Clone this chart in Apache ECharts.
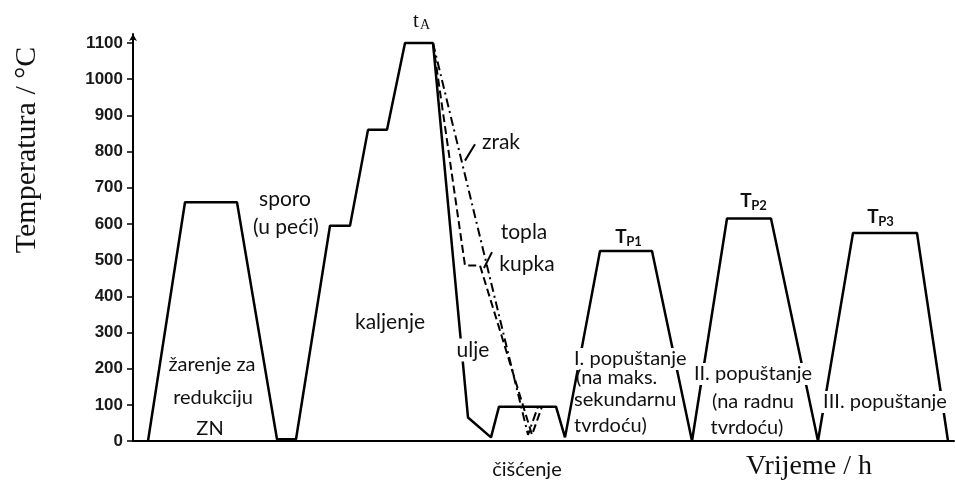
<!DOCTYPE html>
<html><head><meta charset="utf-8">
<script src="https://cdn.jsdelivr.net/npm/echarts@6/dist/echarts.min.js"></script>
<style>html,body{margin:0;padding:0;background:#fff}#c{width:955px;height:491px}</style>
</head><body><div id="c"></div>
<script>
// Temperature tick labels (°C)
const tempTicks = [0, 100, 200, 300, 400, 500, 600, 700, 800, 900, 1000, 1100];
// Main process curve (time in arbitrary units, temperature °C)
const mainTime = [15, 52, 104, 144, 163, 197, 217, 235, 254, 272, 300, 335, 358, 366, 423, 432, 467, 519, 559, 594, 638, 685, 720, 784, 815];
const mainTemp = [0, 660, 660, 5, 5, 595, 595, 860, 860, 1100, 1100, 65, 10, 95, 95, 10, 525, 525, 0, 615, 615, 0, 575, 575, 0];
// Air cooling (zrak)
const airTime = [300, 395, 405];
const airTemp = [1100, 17, 95];
// Hot bath (topla kupka)
const bathTime = [300, 332, 347, 399, 409];
const bathTemp = [1100, 485, 485, 17, 95];
// Leader ticks for labels
const airLeaderTime = [342, 332];
const airLeaderTemp = [820, 775];
const bathLeaderTime = [359, 351];
const bathLeaderTemp = [522, 478];

const zip = (a, b) => a.map((v, i) => [v, b[i]]);

const SANS = 'Lato, "Open Sans", sans-serif';
const SERIF = '"Liberation Serif", "DejaVu Serif", serif';
const INK = '#111';

function label(text, x, y, o) {
  o = o || {};
  return {
    type: 'text', x: x, y: y, z: 100, rotation: o.rotation || 0,
    style: {
      text: text, x: 0, y: 0,
      font: o.font || ('20px ' + SANS),
      fill: o.fill || INK,
      align: o.align || 'center',
      verticalAlign: 'middle',
      backgroundColor: o.bg ? '#fff' : null,
      padding: o.bg ? [1, 2] : 0
    }
  };
}

const chart = echarts.init(document.getElementById('c'), null, { renderer: 'canvas' });
chart.setOption({
  animation: false,
  backgroundColor: '#fff',
  grid: { left: 133, right: 1, top: 34, bottom: 50 },
  xAxis: {
    type: 'value', min: 0, max: 821,
    axisLine: { show: true, lineStyle: { color: '#000', width: 2 } },
    axisTick: { show: false }, axisLabel: { show: false }, splitLine: { show: false }
  },
  yAxis: {
    type: 'value', min: 0, max: 1125, interval: 100,
    axisLine: { show: true, symbol: ['none', 'arrow'], symbolSize: [6, 7], lineStyle: { color: '#000', width: 2 } },
    axisTick: { show: true, length: 6, customValues: tempTicks, lineStyle: { color: '#000', width: 1.5 } },
    axisLabel: {
      show: true, customValues: tempTicks, margin: 10, color: '#1a1a1a', fontSize: 17, fontWeight: 'bold',
      fontFamily: '"Liberation Sans", Arial, sans-serif',
      formatter: function (v) { return String(v); }
    },
    splitLine: { show: false }
  },
  series: [
    { type: 'line', data: zip(mainTime, mainTemp), symbol: 'none', lineStyle: { color: '#000', width: 2.5 }, z: 3 },
    { type: 'line', data: zip(airTime, airTemp), symbol: 'none', lineStyle: { color: '#000', width: 2, type: [9, 4, 2, 4] }, z: 2 },
    { type: 'line', data: zip(bathTime, bathTemp), symbol: 'none', lineStyle: { color: '#000', width: 2, type: [8, 4] }, z: 2 },
    { type: 'line', data: zip(airLeaderTime, airLeaderTemp), symbol: 'none', lineStyle: { color: '#000', width: 2 }, z: 2 },
    { type: 'line', data: zip(bathLeaderTime, bathLeaderTemp), symbol: 'none', lineStyle: { color: '#000', width: 2 }, z: 2 }
  ],
  graphic: [
    label('Temperatura / °C', 27, 150, { font: '30px ' + SERIF, rotation: Math.PI / 2 }),
    label('Vrijeme / h', 809, 467, { font: '28px ' + SERIF }),
    label('t', 416, 21, { font: '21px ' + SERIF }),
    label('A', 425, 25, { font: '14px ' + SERIF }),
    label('sporo', 285, 199, { font: '21px ' + SANS }),
    label('(u peći)', 286, 227, { font: '21px ' + SANS }),
    label('zrak', 501, 142, { font: '21px ' + SANS }),
    label('topla', 524, 232, { font: '21px ' + SANS }),
    label('kupka', 527, 264, { font: '21px ' + SANS }),
    label('kaljenje', 390, 322, { font: '21px ' + SANS }),
    label('ulje', 473, 350, { bg: true, font: '21px ' + SANS }),
    label('žarenje za', 212, 365),
    label('redukciju', 213, 398),
    label('ZN', 210, 429),
    label('čišćenje', 527, 470),
    label('I. popuštanje', 572, 359, { align: 'left', bg: true }),
    label('(na maks.', 576, 378, { align: 'left' }),
    label('sekundarnu', 574, 400, { align: 'left' }),
    label('tvrdoću)', 574, 426, { align: 'left' }),
    label('II. popuštanje', 753, 374, { bg: true }),
    label('(na radnu', 753, 402),
    label('tvrdoću)', 747, 428),
    label('III. popuštanje', 885, 402, { bg: true }),
    label('T', 621, 237, { font: 'bold 19px ' + SANS }),
    label('P1', 634, 242, { font: 'bold 13px ' + SANS }),
    label('T', 746, 201, { font: 'bold 19px ' + SANS }),
    label('P2', 759, 206, { font: 'bold 13px ' + SANS }),
    label('T', 873, 217, { font: 'bold 19px ' + SANS }),
    label('P3', 886, 222, { font: 'bold 13px ' + SANS })
  ]
});
</script>
</body></html>
